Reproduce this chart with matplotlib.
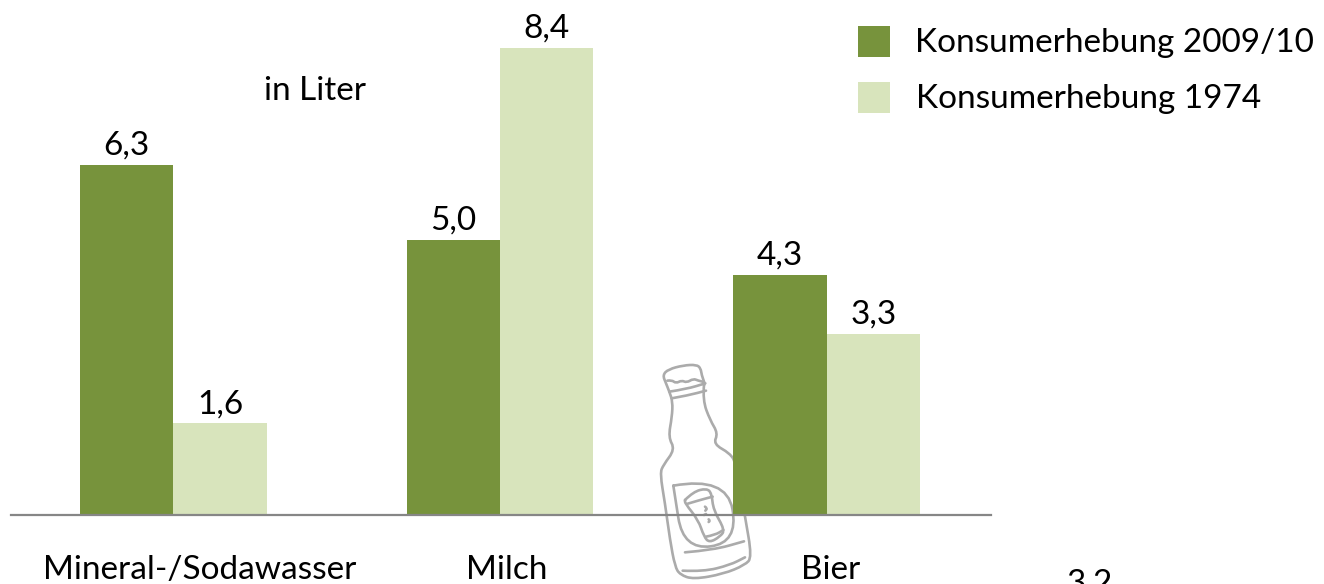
import numpy as np
import matplotlib
matplotlib.use('Agg')
import matplotlib.pyplot as plt
from matplotlib.patches import Rectangle, PathPatch
from matplotlib.path import Path
from matplotlib.transforms import Affine2D

plt.rcParams['font.family'] = ['Lato', 'DejaVu Sans']

categories = ['Mineral-/Sodawasser', 'Milch', 'Bier']
# bar heights as measured, the printed labels are rounded
werte_2009 = [6.3, 4.95, 4.32]
werte_1974 = [1.65, 8.4, 3.26]
labels_2009 = ['6,3', '5,0', '4,3']
labels_1974 = ['1,6', '8,4', '3,3']
serien = ['Konsumerhebung 2009/10', 'Konsumerhebung 1974']
einheit = 'in Liter'
rest_label = '3,2'

DUNKEL = '#77933C'
HELL = '#D8E4BC'
W, H = 1324, 584
FS = 24

fig = plt.figure(figsize=(W / 100, H / 100), dpi=100)
# axes spans the grey baseline, 11..991 px wide, baseline at y=515
ax = fig.add_axes([11 / W, 1 - 515 / H, 980 / W, 515 / H])
x = np.arange(len(categories))
breite = 0.286
b1 = ax.bar(x - breite / 2, werte_2009, breite, color=DUNKEL, zorder=2)
b2 = ax.bar(x + breite / 2, werte_1974, breite, color=HELL, zorder=2)
ax.set_xlim(-0.497, 2.503)
ax.set_ylim(0, 515 / 55.6)
for s in ['top', 'left', 'right']:
    ax.spines[s].set_visible(False)
ax.spines['bottom'].set_color('#868686')
ax.spines['bottom'].set_linewidth(1.6)
ax.spines['bottom'].set_zorder(4)
ax.set_yticks([])
ax.set_xticks([])

for bars, labels in ((b1, labels_2009), (b2, labels_1974)):
    for b, lab in zip(bars, labels):
        ax.annotate(lab, (b.get_x() + b.get_width() / 2, b.get_height()),
                    xytext=(0, 3), textcoords='offset points',
                    ha='center', va='bottom', fontsize=FS, color='black')


def px_text(px, py, s, **kw):
    fig.text(px / W, 1 - py / H, s, fontsize=FS, color='black', va='center', **kw)


# category labels sit a bit off the group centres
for px, name in zip([200, 507, 831], categories):
    px_text(px, 570, name, ha='center')
px_text(264, 91, einheit, ha='left')
px_text(1090, 584, rest_label, ha='center')

# legend
for py, farbe, name, tx in zip([26, 82], [DUNKEL, HELL], serien, [915, 916]):
    fig.add_artist(Rectangle((858 / W, 1 - (py + 31) / H), 32 / W, 31 / H,
                             transform=fig.transFigure, color=farbe, lw=0))
    px_text(tx, py + 17, name, ha='left')


# bottle sketch, points taken from a 3x crop starting at (630, 350)
def glatt(pts):
    pts = np.array(pts, float)
    mid = (pts[:-1] + pts[1:]) / 2
    verts = [pts[0]]
    codes = [Path.MOVETO]
    for p, m in zip(pts[1:-1], mid[1:]):
        verts += [p, m]
        codes += [Path.CURVE3, Path.CURVE3]
    verts.append(pts[-1])
    codes.append(Path.LINETO)
    return Path(verts, codes)


flasche = [
    # outline, left side and bottom
    [(222, 105), (218, 150), (240, 210), (264, 250), (250, 282), (300, 310), (318, 340), (345, 500),
     (366, 622), (345, 645), (280, 672), (190, 688), (150, 674), (135, 650), (120, 570), (105, 460),
     (90, 370), (100, 345), (135, 298), (115, 262), (126, 200), (128, 155), (118, 125), (108, 100),
     (98, 75), (115, 58), (160, 46), (200, 44), (212, 55), (215, 75), (224, 100), (222, 105)],
    # cap details
    [(112, 92), (125, 90), (138, 100), (155, 91), (170, 98), (190, 86), (205, 92), (222, 96)],
    [(118, 125), (170, 117), (226, 100)],
    [(125, 145), (175, 136), (228, 122)],
    # label
    [(130, 407), (290, 378), (325, 578), (160, 600), (130, 407)],
    [(165, 607), (250, 600), (342, 574)],
    [(158, 662), (220, 665), (300, 645), (345, 622)],
    # glass on the label
    [(165, 450), (190, 425), (230, 415), (245, 430), (250, 480), (285, 540), (270, 560), (238, 578),
     (222, 560), (205, 510), (165, 460), (165, 450)],
    [(170, 462), (210, 450), (248, 440)],
    [(228, 560), (255, 555), (280, 540)],
    [(225, 470), (232, 475), (226, 482)],
    [(222, 495), (228, 492)],
    [(236, 508), (240, 512), (236, 516)],
]
# zoom pixels -> figure pixels (matplotlib y goes up)
tr = Affine2D().scale(1 / 3, 1 / 3).translate(630, 350).scale(1, -1).translate(0, H) + \
    Affine2D().scale(1 / W, 1 / H) + fig.transFigure
for pts in flasche:
    ax.add_patch(PathPatch(glatt(pts), transform=tr, fill=False, edgecolor='#ABABAB', lw=1.9,
                           capstyle='round', joinstyle='round', clip_on=False, zorder=1))

fig.savefig('out.png', dpi=100)
